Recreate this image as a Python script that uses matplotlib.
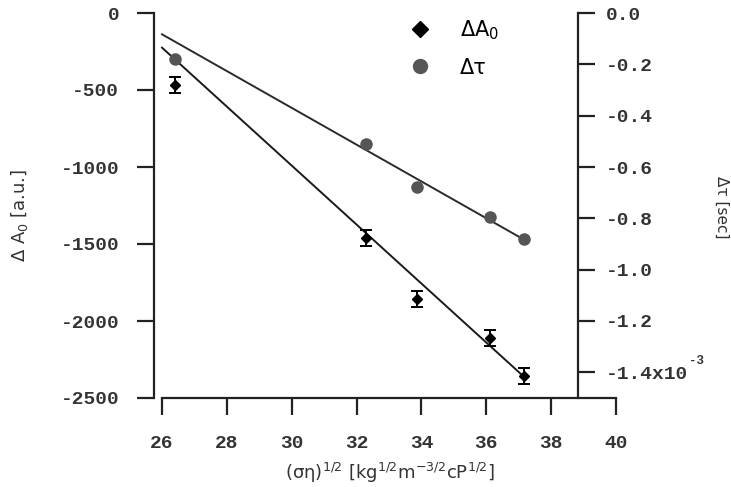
import numpy as np
import matplotlib.pyplot as plt
from matplotlib.lines import Line2D

plt.rcParams['axes.unicode_minus'] = False

# data
x_vals = [26.4, 32.3, 33.85, 36.1, 37.15]
dA0 = [-468, -1460, -1857, -2112, -2355]
dA0_err = [52, 52, 52, 52, 52]
dtau = [-0.180, -0.510, -0.678, -0.796, -0.881]   # units of 1e-3 sec

# linear fits as drawn in the original
fit_x = [26.0, 37.15]
fit_A0 = [-225, -2360]
fit_tau = [-0.083, -0.882]

left_ticks = [0, -500, -1000, -1500, -2000, -2500]
right_ticks = [0.0, -0.2, -0.4, -0.6, -0.8, -1.0, -1.2, -1.4]
right_labels = ['0.0', '-0.2', '-0.4', '-0.6', '-0.8', '-1.0', '-1.2', '-1.4x10']
x_ticks = [26, 28, 30, 32, 34, 36, 38, 40]

W, H = 731, 487
tick_font = dict(family='Liberation Mono', weight='bold', size=14)
dark = '#222222'
txt = '#333333'

fig = plt.figure(figsize=(W / 100, H / 100), dpi=100)
ax = fig.add_axes([154 / W, 89 / H, 424 / W, 385 / H])
ax.patch.set_visible(False)
ax.set_xlim(25.753, 38.828)
ax.set_ylim(-2500, 0)
ax2 = ax.twinx()
ax2.set_ylim(-1.5, 0)

for a in (ax, ax2):
    for s in a.spines.values():
        s.set_visible(False)
        s.set_linewidth(1.6)
        s.set_color(dark)
ax.spines['left'].set_visible(True)
ax2.spines['right'].set_visible(True)

ax.tick_params(axis='x', bottom=False, labelbottom=False)
ax.tick_params(axis='y', direction='out', length=12, width=1.6, color=dark, pad=13)
ax.set_yticks(left_ticks)
ax.set_yticklabels([str(t) for t in left_ticks], **tick_font, color=txt)

ax2.tick_params(axis='y', direction='out', length=12, width=1.6, color=dark, pad=8)
ax2.set_yticks(right_ticks)
ax2.set_yticklabels(right_labels, **tick_font, color=txt)
ax2.annotate('-3', xy=(1, -1.4), xycoords=('axes fraction', 'data'),
             xytext=(80, 6), textcoords='offset points',
             fontfamily='Liberation Mono', fontweight='bold', fontsize=9, color=txt)

# separate, offset x axis (26..40)
xax = fig.add_axes([162 / W, 89 / H, 454 / W, 0.01])
xax.patch.set_visible(False)
xax.set_xlim(26, 40)
for k in ('top', 'left', 'right'):
    xax.spines[k].set_visible(False)
xax.spines['bottom'].set_linewidth(1.6)
xax.spines['bottom'].set_color(dark)
xax.set_yticks([])
xax.set_xticks(x_ticks)
xax.set_xticklabels([str(t) for t in x_ticks], **tick_font, color=txt)
xax.tick_params(axis='x', direction='out', length=12, width=1.6, color=dark, pad=15)

# data
ax.plot(fit_x, fit_A0, color='#1a1a1a', lw=1.4, zorder=2)
ax.errorbar(x_vals, dA0, yerr=dA0_err, fmt='D', color='black', ms=5,
            capsize=4, elinewidth=1.4, capthick=1.4, zorder=3)
ax2.plot(fit_x, fit_tau, color='#2a2a2a', lw=1.4, zorder=2)
ax2.plot(x_vals, dtau, 'o', color='#555555', ms=8, zorder=3)

handles = [Line2D([], [], marker='D', ls='none', color='black', ms=8),
           Line2D([], [], marker='o', ls='none', color='#555555', ms=10)]
ax.legend(handles, ['ΔA$_0$', 'Δτ'], loc='upper left',
          bbox_to_anchor=(0.535, 1.035), frameon=False, fontsize=15,
          handletextpad=0.9, labelspacing=0.75)

fig.text(20 / W, 1 - 215 / H, r'$\Delta$ A$_0$ [a.u.]', rotation=90,
         ha='center', va='center', fontsize=13, color=txt)
fig.text(722 / W, 1 - 207 / H, 'Δτ [sec]', rotation=270,
         ha='center', va='center', fontsize=11, color=txt)
fig.text(390 / W, 1 - 473 / H,
         '(ση)$^{1/2}$ [kg$^{1/2}$m$^{-3/2}$cP$^{1/2}$]',
         ha='center', va='center', fontsize=13, color=txt)

fig.savefig('out.png', dpi=100)
